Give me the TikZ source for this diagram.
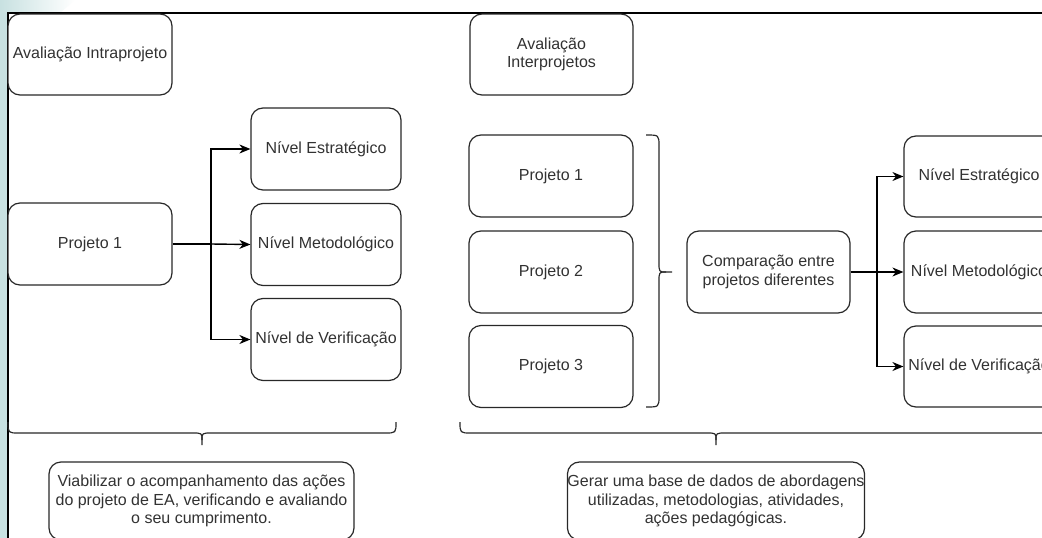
\documentclass[tikz,border=0pt]{standalone}
\usepackage{fontspec}
\setmainfont{Liberation Sans}
\usetikzlibrary{arrows.meta}
\definecolor{tealbg}{RGB}{200,225,225}
\definecolor{txt}{RGB}{50,50,50}
\definecolor{edge}{RGB}{40,40,40}
\begin{document}
\begin{tikzpicture}[x=1pt,y=-1pt,
  box/.style={draw=edge,line width=1.2pt,rounded corners=12pt,fill=white,
    inner sep=0pt,align=center,text=txt,
    font=\fontsize{16}{18.5}\selectfont},
  bw/.style 2 args={minimum width=#1pt,minimum height=#2pt},
  arr/.style={draw=black,line width=1.4pt,-{Stealth[length=11pt,width=9pt,inset=3.5pt]}},
  conn/.style={draw=black,line width=1.4pt},
  brace/.style={draw=edge,line width=1.2pt}]
\useasboundingbox (0,0) rectangle (1042,538);
\clip (0,0) rectangle (1042,538);
% background
\fill[white] (0,0) rectangle (1042,538);
\fill[tealbg] (0,0) rectangle (8,538);
\shade[left color=tealbg,right color=white] (0,0) -- (75,0) -- (60,13) -- (0,13) -- cycle;
\draw[black,line width=2pt] (8,540) -- (8,13) -- (1050,13);

% left group
\node[box,bw={164}{81}] (intra) at (90,54.5) {Avaliação Intraprojeto};
\node[box,bw={164}{82}] (lp1) at (90,244) {Projeto 1};
\node[box,bw={150}{82}] (le) at (326,149) {Nível Estratégico};
\node[box,bw={150}{82}] (lm) at (326,244.5) {Nível Metodológico};
\node[box,bw={150}{82}] (lv) at (326,339.5) {Nível de Verificação};
\coordinate (jl) at (211,244);
\draw[conn] (lp1.east) -- (jl);
\draw[arr] (jl) -- (lm.west);
\draw[arr] (jl) |- (le.west);
\draw[arr] (jl) |- (lv.west);

% right group
\node[box,bw={163}{81}] (inter) at (551.5,54.5) {Avaliação\\Interprojetos};
\node[box,bw={164}{82}] (rp1) at (551,176) {Projeto 1};
\node[box,bw={164}{82}] (rp2) at (551,272) {Projeto 2};
\node[box,bw={164}{82}] (rp3) at (551,366.5) {Projeto 3};
\node[box,bw={163}{82}] (comp) at (768.5,272) {Comparação entre\\projetos diferentes};
\node[box,bw={150}{81}] (re) at (979,176.5) {Nível Estratégico};
\node[box,bw={150}{82}] (rm) at (979,272) {Nível Metodológico};
\node[box,bw={150}{81}] (rv) at (979,366.5) {Nível de Verificação};
\coordinate (jr) at (877,272);
\draw[conn] (comp.east) -- (jr);
\draw[arr] (jr) -- (rm.west);
\draw[arr] (jr) |- (re.west);
\draw[arr] (jr) |- (rv.west);

% vertical brace
\draw[brace] (646,135) .. controls (659,135) .. (659,146) -- (659,262)
  .. controls (659,272) .. (666,272) -- (672,272);
\draw[brace] (646,407) .. controls (659,407) .. (659,396) -- (659,282)
  .. controls (659,272) .. (666,272);

% bottom braces
\draw[brace] (8,422) .. controls (8,433) .. (19,433) -- (192,433)
  .. controls (202,433) .. (202,440) -- (202,445);
\draw[brace] (396,422) .. controls (396,433) .. (385,433) -- (212,433)
  .. controls (202,433) .. (202,440);
\draw[brace] (460,422) .. controls (460,433) .. (471,433) -- (706,433)
  .. controls (716,433) .. (716,440) -- (716,445);
\draw[brace] (1060,433) -- (726,433) .. controls (716,433) .. (716,440);

% bottom boxes
\node[box,bw={305}{78}] (bl) at (201.5,501) {Viabilizar o acompanhamento das ações\\do projeto de EA, verificando e avaliando\\o seu cumprimento.};
\node[box,bw={264}{78}] (br) at (716,501) {Gerar uma base de dados de abordagens\\utilizadas, metodologias, atividades,\\ações pedagógicas.};
\end{tikzpicture}
\end{document}
